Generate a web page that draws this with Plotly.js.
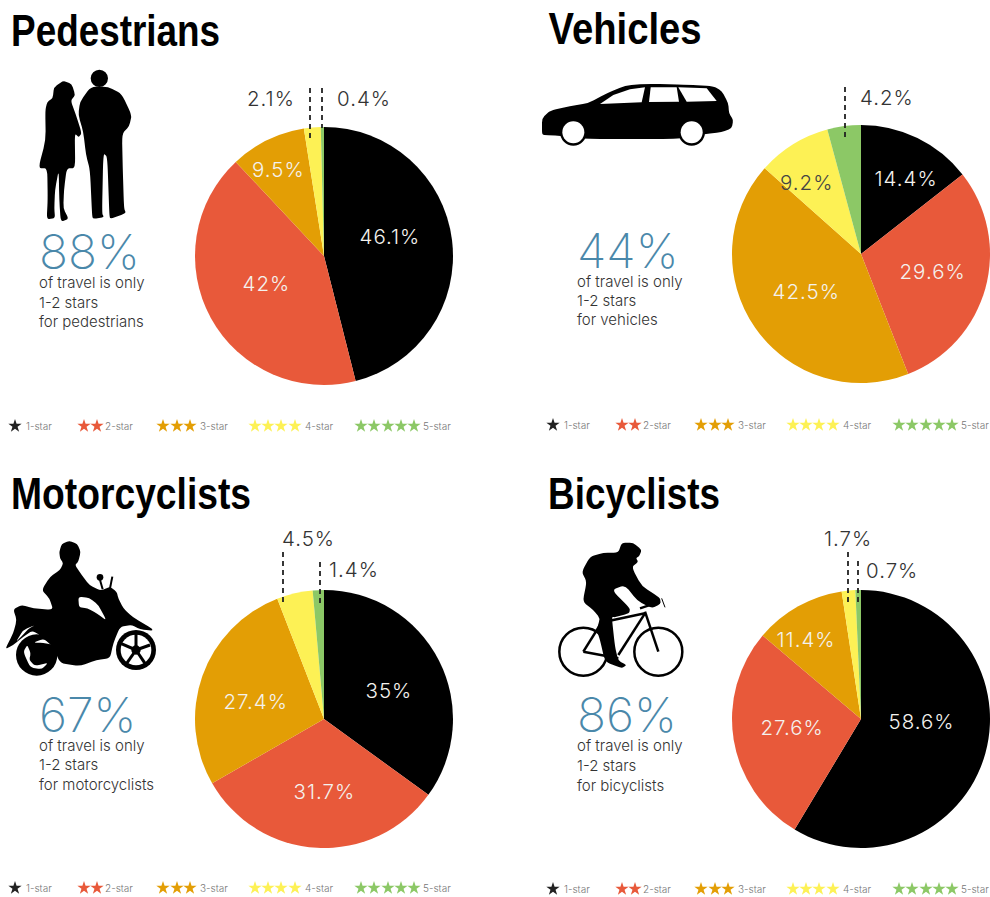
<!DOCTYPE html>
<html><head><meta charset="utf-8">
<script src="https://cdn.plot.ly/plotly-3.0.1.min.js"></script>
<style>html,body{margin:0;padding:0;background:#fff}#c{width:990px;height:897px}</style></head>
<body><div id="c"></div>
<script>
const ratings = ['1-star','2-star','3-star','4-star','5-star'];
const colors = ['#000000','#E8593A','#E39E05','#FDF155','#8CC866'];
const pedestrians = [46.1,42,9.5,2.1,0.4];
const vehicles = [14.4,29.6,42.5,9.2,4.2];
const motorcyclists = [35,31.7,27.4,4.5,1.4];
const bicyclists = [58.6,27.6,11.4,1.7,0.7];
const titles = ['Pedestrians','Vehicles','Motorcyclists','Bicyclists'];
const headlines = ['88%','44%','67%','86%'];
const captions = ['for pedestrians','for vehicles','for motorcyclists','for bicyclists'];

const W=990,H=897,R=129;
const panels=[
 {v:pedestrians,cx:324,cy:256,tx:[11,220],ty:30,hx:39,hy:251,cap:[282,302,321],lx:0,ly:426,
  inside:[[390,236],[266,283],[278,169]],insideIdx:[0,1,2],
  out:[{i:3,x:270.5,y:98},{i:4,x:363.5,y:98}],dash:[[310,88,310,140],[322,88,322,128]]},
 {v:vehicles,cx:861,cy:254,tx:[548,701],ty:28,hx:577,hy:250,cap:[281,300,319],lx:538,ly:425,
  inside:[[906,178],[932,271],[806,291],[806,182]],insideIdx:[0,1,2,3],dark:[3],
  out:[{i:4,x:887,y:97}],dash:[[845,87,845,139]]},
 {v:motorcyclists,cx:324,cy:719,tx:[11,251],ty:493,hx:39,hy:714,cap:[745,764,784],lx:0,ly:888,
  inside:[[389,690],[324,791],[255,701]],insideIdx:[0,1,2],
  out:[{i:3,x:308,y:538},{i:4,x:354,y:569}],dash:[[283,552,283,603],[320,562,320,603]]},
 {v:bicyclists,cx:861,cy:719,tx:[548,720],ty:493,hx:577,hy:714,cap:[745,765,785],lx:538,ly:889,
  inside:[[921,721],[792,727],[806,639]],insideIdx:[0,1,2],
  out:[{i:3,x:848,y:538},{i:4,x:892,y:570}],dash:[[848,552,848,604],[858,561,858,604]]}
];
const BODY='Inter, "Open Sans", sans-serif';
const traces=[],ann=[],shapes=[];
const T=(text,x,y,size,color,o={})=>ann.push(Object.assign({text,x,y,xref:'x',yref:'y',showarrow:false,xanchor:'center',yanchor:'middle',borderpad:0,borderwidth:0,
  font:{family:o.family||BODY,size,color,weight:o.weight||300}},o.extra||{}));
const starX=[[15],[84,97],[163,177,190],[255,268,281,295],[361,374,388,401,414]];
const labelX=[26,105,200,305,423];

panels.forEach((p,n)=>{
 traces.push({type:'pie',values:p.v,labels:ratings,sort:false,direction:'clockwise',rotation:0,
  marker:{colors:colors,line:{width:0}},textinfo:'none',hoverinfo:'label+value',showlegend:false,
  domain:{x:[(p.cx-R)/W,(p.cx+R)/W],y:[1-(p.cy+R)/H,1-(p.cy-R)/H]}});
 T(titles[n],(p.tx[0]+p.tx[1])/2,p.ty,45,'#000',{family:'"Liberation Sans", sans-serif',weight:700});
 T(headlines[n],p.hx,p.hy,48,'#4A88AA',{weight:200,extra:{xanchor:'left'}});
 ['of travel is only','1-2 stars',captions[n]].forEach((s,k)=>T(s,p.hx,p.cap[k],15,'#333',{extra:{xanchor:'left'}}));
 p.insideIdx.forEach((idx,k)=>T(p.v[idx]+'%',p.inside[k][0],p.inside[k][1],20.5,(p.dark||[]).includes(k)?'#444':'#F4F2EE'));
 p.out.forEach(o=>T(p.v[o.i]+'%',o.x,o.y,20.5,'#333'));
 p.dash.forEach(d=>shapes.push({type:'line',xref:'x',yref:'y',x0:d[0],y0:d[1],x1:d[2],y1:d[3],layer:'above',line:{color:'#222',width:1.8,dash:'5px,4px'}}));
 ratings.forEach((r,k)=>{
  traces.push({type:'scatter',mode:'markers',x:starX[k].map(x=>x+p.lx),y:starX[k].map(()=>p.ly),hoverinfo:'skip',showlegend:false,
   marker:{symbol:'star',size:10,color:k===0?'#222':colors[k],line:{width:0}}});
  T(r,labelX[k]+p.lx,p.ly,10,'#777',{extra:{xanchor:'left'}});
 });
});

/* silhouettes: outlines given in 3x crop coordinates */
function path(pts,ox,oy,smooth=true){
 const q=pts.map(a=>[a[0]/3+ox,a[1]/3+oy]);
 const f=a=>a[0].toFixed(1)+','+a[1].toFixed(1);
 if(!smooth) return 'M'+q.map(f).join('L')+'Z';
 const t=0.3,mix=(a,b)=>[a[0]+(b[0]-a[0])*t,a[1]+(b[1]-a[1])*t];
 let d='';
 q.forEach((a,i)=>{
  const s=mix(a,q[(i-1+q.length)%q.length]),e=mix(a,q[(i+1)%q.length]);
  d+=(i?'L':'M')+f(s)+'Q'+f(a)+' '+f(e);
 });
 return d+'Z';
}
function fill(pts,ox,oy,color='#000',smooth=true){
 shapes.push({type:'path',xref:'x',yref:'y',path:path(pts,ox,oy,smooth),fillcolor:color,line:{width:0},layer:'above'});
}
function circ(c,r,ox,oy,color='#000',stroke=0){
 const s={type:'circle',xref:'x',yref:'y',x0:(c[0]-r)/3+ox,x1:(c[0]+r)/3+ox,y0:(c[1]-r)/3+oy,y1:(c[1]+r)/3+oy,layer:'above'};
 if(stroke){s.fillcolor='rgba(0,0,0,0)';s.line={color:'#000',width:stroke};}
 else{s.fillcolor=color;s.line={width:0};}
 shapes.push(s);
}
function seg(a,b,ox,oy,w=2){
 shapes.push({type:'line',xref:'x',yref:'y',x0:a[0]/3+ox,y0:a[1]/3+oy,x1:b[0]/3+ox,y1:b[1]/3+oy,layer:'above',line:{color:'#000',width:w}});
}
/* couple */
fill([[158,295],[162,262],[190,242],[215,252],[226,285],[212,302],[228,345],[245,400],[236,412],[224,400],[226,505],[200,505],[192,570],[190,625],[206,657],[182,665],[178,600],[176,510],[165,570],[163,625],[165,655],[140,658],[143,600],[142,505],[115,505],[137,420],[136,330],[142,305]],0,0);
circ([298,235],26,0,0);
fill([[272,260],[325,260],[365,282],[395,345],[388,378],[366,402],[368,500],[372,625],[378,640],[330,657],[328,640],[322,470],[310,460],[306,640],[312,652],[278,657],[276,640],[270,510],[258,465],[250,395],[235,345],[240,305]],0,0);
/* car */
fill([[36,145],[60,122],[120,108],[175,100],[230,70],[285,47],[350,41],[480,44],[550,49],[575,62],[595,100],[597,130],[610,150],[605,175],[575,187],[525,192],[445,207],[165,207],[90,197],[40,195],[36,190]],530,70);
[[130,187],[485,187]].forEach(c=>{circ(c,40,530,70);circ(c,33,530,70,'#fff');});
fill([[210,102],[250,75],[300,58],[345,52],[335,97]],530,70,'#fff',false);
fill([[362,52],[440,52],[447,95],[357,96]],530,70,'#fff',false);
fill([[445,52],[530,55],[560,93],[470,95]],530,70,'#fff',false);
/* motorcycle */
circ([110,375],62,0,530);
circ([408,360],60,0,530);
circ([408,360],46,0,530,'#fff');
[[408,312],[450,345],[435,400],[380,400],[362,340]].forEach(e=>seg([408,360],e,0,530,3));
circ([408,360],14,0,530);
fill([[70,365],[82,345],[92,370],[88,390],[105,408],[145,398],[125,418],[90,412]],0,530,'#fff');
fill([[100,338],[130,326],[160,345],[130,338]],0,530,'#fff');
fill([[178,65],[185,42],[208,32],[232,42],[242,65],[235,95],[225,105],[245,135],[268,165],[302,182],[330,170],[350,185],[355,205],[370,235],[398,262],[455,295],[458,302],[420,298],[395,285],[360,290],[340,340],[330,385],[290,390],[240,408],[180,400],[160,350],[100,300],[70,320],[40,345],[15,358],[40,310],[50,270],[40,238],[65,225],[100,235],[160,240],[148,205],[125,180],[150,140],[180,120],[190,100],[180,85]],0,530);
fill([[235,200],[268,203],[295,225],[320,272],[290,250],[262,235],[237,232]],0,530,'#fff');
fill([[48,335],[70,300],[105,285],[85,297],[62,322]],0,530,'#fff');
circ([300,142],10,0,530);
seg([300,150],[308,178],0,530,2);
seg([337,140],[330,175],0,530,2);
/* cyclist */
[[100,365],[325,365]].forEach(c=>circ(c,72,550,530,'#000',2.5));
fill([[215,38],[250,38],[275,60],[268,78],[258,85],[265,95],[245,112],[275,168],[330,203],[332,222],[305,235],[262,212],[225,165],[185,180],[240,235],[238,250],[195,262],[185,260],[195,350],[205,392],[230,405],[215,415],[165,395],[150,330],[140,300],[150,265],[130,240],[98,215],[110,155],[95,125],[120,80],[160,68],[205,68]],550,530);
[[[100,365],[150,285]],[[165,275],[285,250]],[[285,250],[205,375]],[[285,245],[325,365]],[[100,365],[205,385]],[[270,235],[330,215]]].forEach(l=>seg(l[0],l[1],550,530,2.5));
seg([335,205],[345,232],550,530,1);

Plotly.newPlot('c',traces,{
 width:W,height:H,margin:{l:0,r:0,t:0,b:0,pad:0},paper_bgcolor:'#fff',plot_bgcolor:'#fff',showlegend:false,
 xaxis:{range:[0,W],visible:false,fixedrange:true},
 yaxis:{range:[H,0],visible:false,fixedrange:true},
 annotations:ann,shapes:shapes
},{displayModeBar:false,staticPlot:true}).then(gd=>{
 gd.querySelectorAll('.annotation-text').forEach(t=>{
  const s=t.textContent,n=titles.indexOf(s);
  /* condense the four headings to the reference's narrow width */
  if(n>=0){const b=panels[n].tx;t.setAttribute('textLength',b[1]-b[0]);t.setAttribute('lengthAdjust','spacingAndGlyphs');}
  /* the reference's percentages are set wide */
  else if(s.endsWith('%')&&!headlines.includes(s)) t.style.letterSpacing='1px';
 });
});
</script></body></html>
